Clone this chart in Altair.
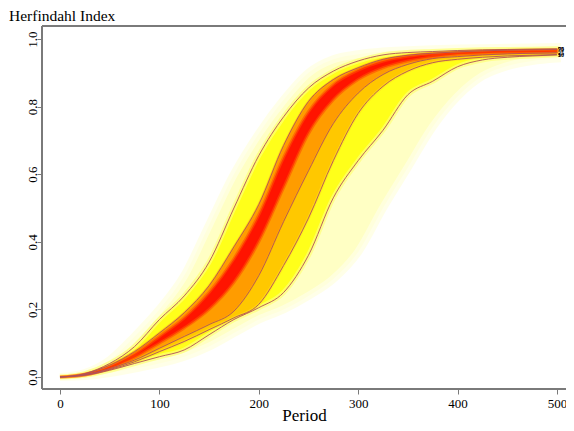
import altair as alt
import pandas as pd

# ---- data ----
periods = [0, 25, 50, 75, 100, 125, 150, 175, 200, 225, 250, 275, 300, 325, 350, 375, 400, 425, 450, 475, 500]

outer_hi = [0, .012, .05, .12, .20, .30, .45, .60, .72, .82, .90, .94, .955, .963, .967, .970, .972, .973, .974, .975, .976]
line_a   = [0, .010, .04, .09, .17, .24, .34, .50, .655, .77, .855, .905, .935, .953, .960, .963, .966, .968, .969, .970, .971]
line_b   = [0, .009, .035, .075, .13, .19, .27, .385, .51, .685, .815, .88, .915, .94, .952, .958, .962, .965, .967, .968, .969]
core_hi  = [0, .008, .031, .068, .12, .175, .25, .35, .48, .65, .785, .865, .908, .935, .949, .956, .960, .963, .965, .966, .967]
core_lo  = [0, .006, .026, .058, .10, .145, .20, .28, .40, .56, .72, .82, .88, .915, .935, .947, .955, .958, .960, .961, .962]
line_c   = [0, .007, .025, .05, .085, .12, .155, .195, .30, .46, .61, .75, .84, .895, .925, .942, .948, .953, .956, .958, .959]
line_d   = [0, .006, .022, .045, .075, .105, .14, .175, .215, .33, .47, .64, .78, .86, .905, .93, .94, .946, .95, .952, .954]
line_e   = [0, .005, .02, .04, .06, .08, .125, .17, .205, .25, .36, .53, .64, .73, .835, .875, .918, .938, .946, .95, .953]
outer_lo = [0, .003, .012, .025, .04, .06, .09, .13, .17, .20, .24, .29, .37, .50, .62, .74, .83, .89, .92, .935, .942]

line_names = ["90", "75", "25", "10", "5"]
x_ticks = [0, 100, 200, 300, 400, 500]
y_ticks = [0.0, 0.2, 0.4, 0.6, 0.8, 1.0]

df = pd.DataFrame({
    "period": periods, "outer_hi": outer_hi, "a": line_a, "b": line_b, "core_hi": core_hi,
    "core_lo": core_lo, "c": line_c, "d": line_d, "e": line_e, "outer_lo": outer_lo,
})

lines_df = pd.concat([
    pd.DataFrame({"period": periods, "value": vals, "line": name})
    for name, vals in zip(line_names, [line_a, line_b, line_c, line_d, line_e])
])
labels_df = pd.DataFrame({
    "period": [periods[-1]] * 5,
    "value": [line_a[-1], line_b[-1], line_c[-1], line_d[-1], line_e[-1]],
    "line": line_names,
})

FONT = "Liberation Serif"
GRAY = "#7a7a7a"
W, H = 524, 363
xscale = alt.Scale(domain=[-18.1, 509.1], nice=False, zero=False)
yscale = alt.Scale(domain=[-0.0355, 1.0385], nice=False, zero=False)

xaxis = alt.Axis(values=x_ticks, labelFont=FONT, labelFontSize=13, labelColor="black",
                 tickColor=GRAY, tickSize=5, domain=False, grid=False, labelPadding=3,
                 labelFlush=False, title="Period", titleFont=FONT, titleFontSize=17,
                 titleFontWeight="normal", titleColor="black", titleBaseline="alphabetic",
                 titleY=31)
yaxis = alt.Axis(values=y_ticks, format=".1f", labelFont=FONT, labelFontSize=13, labelColor="black",
                 labelAngle=270, labelAlign="center", labelBaseline="alphabetic", labelPadding=1,
                 labelFlush=False, tickColor=GRAY, tickSize=5, domain=False, grid=False, title=None)

X = alt.X("period:Q", scale=xscale, axis=xaxis)


def band(hi, lo, color, stroke=None, sw=0, op=1.0):
    kw = dict(color=color, interpolate="monotone")
    if stroke:
        kw.update(stroke=stroke, strokeWidth=sw, strokeOpacity=op)
    return alt.Chart(df).mark_area(**kw).encode(
        x=X,
        y=alt.Y(f"{hi}:Q", scale=yscale, axis=yaxis),
        y2=alt.Y2(f"{lo}:Q"),
    )


layers = [
    band("outer_hi", "outer_lo", "#FFFFC4", stroke="#FFFFE2", sw=8, op=0.8),
    band("a", "e", "#FFFF1A", stroke="#FFFF78", sw=5, op=0.7),
    band("b", "d", "#FFC800", stroke="#FFDC20", sw=3, op=0.6),
    band("b", "c", "#FF9C00", stroke="#FFB400", sw=2, op=0.6),
    band("core_hi", "core_lo", "#FF1400", stroke="#FF5000", sw=3, op=0.6),
]

lines = alt.Chart(lines_df).mark_line(color="#B0505A", strokeWidth=0.9, interpolate="monotone").encode(
    x=X,
    y=alt.Y("value:Q", scale=yscale, axis=yaxis),
    detail="line:N",
)

labels = alt.Chart(labels_df).mark_text(font=FONT, fontSize=6, fontWeight="bold", color="black",
                                        align="left", dx=1).encode(
    x=X,
    y=alt.Y("value:Q", scale=yscale, axis=yaxis),
    text="line:N",
)

# frame: left, top and bottom sides (the right side lies outside the picture)
frame_left = alt.Chart(df).mark_rule(color=GRAY, strokeWidth=1).encode(
    x=alt.value(0), y=alt.value(0), y2=alt.value(H))
frame_top = alt.Chart(df).mark_rule(color=GRAY, strokeWidth=1).encode(
    x=alt.value(0), x2=alt.value(W + 10), y=alt.value(0))
frame_bottom = alt.Chart(df).mark_rule(color=GRAY, strokeWidth=1).encode(
    x=alt.value(0), x2=alt.value(W + 10), y=alt.value(H))

title = alt.Chart(pd.DataFrame({"t": ["Herfindahl Index"]})).mark_text(
    font=FONT, fontSize=15.5, color="black", align="left", baseline="alphabetic"
).encode(x=alt.value(-33), y=alt.value(-5), text="t:N")

chart = alt.layer(*layers, lines, labels, frame_left, frame_top, frame_bottom, title).properties(
    width=W, height=H,
    autosize=alt.AutoSizeParams(type="none"),
    padding={"left": 34, "top": 18, "right": 0, "bottom": 34},
).configure_view(stroke=None)

chart.save("out.html", embed_options={"renderer": "svg", "actions": False})
